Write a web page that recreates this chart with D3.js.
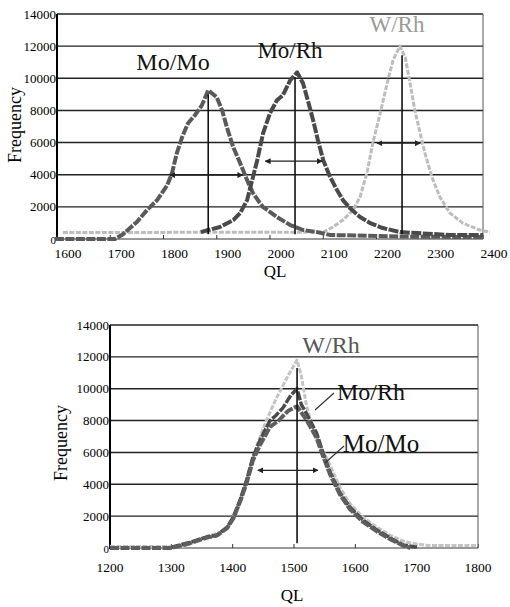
<!DOCTYPE html>
<html>
<head>
<meta charset="utf-8">
<script src="https://cdn.jsdelivr.net/npm/d3@7"></script>
<style>
  body { margin: 0; background: #fff; }
</style>
</head>
<body>
<svg id="chart" width="510" height="607" font-family="'Liberation Serif', 'DejaVu Serif', serif"></svg>
<script>
// values
const yTicks = [0, 2000, 4000, 6000, 8000, 10000, 12000, 14000];
const topTicks = [1600, 1700, 1800, 1900, 2000, 2100, 2200, 2300, 2400];
const botTicks = [1200, 1300, 1400, 1500, 1600, 1700, 1800];

// upper panel: [QL, frequency]
const topMoMo = [[1596,0],[1709,0],[1724,300],[1733,560],[1750,1060],[1769,1800],[1788,2420],[1807,3350],[1816,4100],
  [1825,5340],[1835,6340],[1846,7200],[1859,7700],[1872,8320],[1884,9250],[1900,8820],[1910,8010],[1919,6960],
  [1931,5710],[1944,4720],[1957,3660],[1968,2860],[1981,2240],[1987,1990],[2013,1370],[2038,870],[2062,560],
  [2088,430],[2113,250],[2250,150],[2400,120]];
const topMoRh = [[1870,430],[1884,560],[1906,745],[1931,1180],[1944,1615],[1957,2420],[1968,3850],[1976,4900],
  [1987,6580],[2000,7830],[2013,8630],[2024,8940],[2038,9880],[2051,10370],[2062,9690],[2071,8630],[2081,7390],
  [2090,6150],[2100,4900],[2113,3850],[2126,3040],[2137,2420],[2150,1925],[2169,1370],[2188,990],[2212,680],
  [2244,430],[2276,370],[2338,250],[2400,250]];
const topWRh = [[1611,400],[2100,430],[2118,740],[2137,1180],[2156,1800],[2169,2610],[2182,4100],[2193,5960],
  [2207,7830],[2220,9690],[2231,11120],[2244,12000],[2254,11300],[2263,9690],[2272,8010],[2282,6580],[2291,5340],
  [2304,3850],[2319,2610],[2338,1610],[2362,990],[2394,560],[2413,430]];
const topPeakQL = [1884, 2047, 2248];
const topPeakTop = [9000, 10060, 11430];
const topWidths = [[1812, 1949, 3975], [1991, 2098, 4840], [2201, 2282, 5960]];

// lower panel: [QL, frequency]
const botMoMo = [[1200,0],[1300,0],[1330,300],[1358,650],[1374,780],[1391,1250],[1401,1850],[1412,2900],[1423,4100],
  [1433,5500],[1445,6500],[1461,7600],[1475,8000],[1490,8600],[1505,8900],[1521,8000],[1537,6900],[1547,5800],
  [1559,4600],[1575,3350],[1591,2450],[1612,1650],[1635,1050],[1657,550],[1678,150],[1690,0]];
const botMoRh = [[1300,50],[1330,350],[1358,700],[1374,800],[1391,1300],[1401,1950],[1412,3000],[1423,4300],
  [1433,5700],[1445,6800],[1461,8000],[1470,8300],[1482,8800],[1495,9600],[1505,10000],[1512,9000],[1521,8400],
  [1537,7200],[1547,6000],[1559,4750],[1575,3450],[1591,2570],[1612,1760],[1635,1130],[1657,630],[1678,190],[1700,50]];
const botWRh = [[1200,100],[1320,100],[1340,450],[1360,750],[1380,1000],[1395,1500],[1410,2700],[1420,3800],
  [1430,5200],[1440,6500],[1455,8000],[1470,9300],[1490,10800],[1505,11800],[1512,10800],[1520,9000],[1530,7600],
  [1545,6300],[1560,5100],[1575,3800],[1591,2800],[1612,1950],[1635,1300],[1657,800],[1680,400],[1700,250],
  [1720,150],[1800,150]];
const botPeakQL = [1505];
const botPeakTop = [11300];
const botWidths = [[1441, 1539, 4875]];

const svg = d3.select("#chart");

svg.append("defs").append("marker")
  .attr("id", "head")
  .attr("viewBox", "0 0 10 10")
  .attr("refX", 9).attr("refY", 5)
  .attr("markerWidth", 6).attr("markerHeight", 6)
  .attr("markerUnits", "userSpaceOnUse")
  .attr("orient", "auto-start-reverse")
  .append("path").attr("d", "M0,0L10,5L0,10Z").attr("fill", "#222");

function drawPanel(p) {
  var x = d3.scaleLinear().domain(p.domain).range(p.xRange);
  var y = d3.scaleLinear().domain([0, 14000]).range(p.yRange);
  var g = svg.append("g");

  // horizontal grid lines (top one is the frame)
  g.selectAll("line.grid").data(yTicks.slice(1)).enter().append("line")
    .attr("class", "grid")
    .attr("x1", p.xRange[0]).attr("x2", p.xRange[1])
    .attr("y1", d => y(d)).attr("y2", d => y(d))
    .attr("stroke", "#222").attr("stroke-width", 1.4);

  g.append("line").attr("x1", p.xRange[0]).attr("x2", p.xRange[1])
    .attr("y1", y(0)).attr("y2", y(0)).attr("stroke", "#777").attr("stroke-width", 1.5);
  g.append("line").attr("x1", p.xRange[1]).attr("x2", p.xRange[1])
    .attr("y1", y(14000)).attr("y2", y(0)).attr("stroke", "#555").attr("stroke-width", 1);
  g.append("line").attr("x1", p.xRange[0]).attr("x2", p.xRange[0])
    .attr("y1", y(14000)).attr("y2", y(0) + 1).attr("stroke", "#000").attr("stroke-width", 2);

  // small tick marks on the QL axis
  g.selectAll("line.xt").data(p.ticks).enter().append("line")
    .attr("x1", d => x(d)).attr("x2", d => x(d))
    .attr("y1", y(0)).attr("y2", y(0) - 4)
    .attr("stroke", "#333").attr("stroke-width", 1);

  g.selectAll("text.yl").data(yTicks).enter().append("text")
    .attr("x", p.xRange[0] - 1).attr("y", d => y(d) + 4.5)
    .attr("text-anchor", "end").attr("font-size", d => d == 0 ? 11 : 13)
    .text(d => d);

  g.selectAll("text.xl").data(p.ticks).enter().append("text")
    .attr("x", d => x(d) + p.labelShift).attr("y", p.labelY)
    .attr("text-anchor", "middle").attr("font-size", 13.5)
    .text(d => d);

  g.append("text").attr("x", p.qlPos[0]).attr("y", p.qlPos[1])
    .attr("text-anchor", "middle").attr("font-size", 17).text("QL");
  g.append("text")
    .attr("transform", "translate(" + p.freqPos[0] + "," + p.freqPos[1] + ") rotate(-90)")
    .attr("text-anchor", "middle").attr("font-size", 18).text("Frequency");

  var line = d3.line().x(d => x(d[0])).y(d => y(d[1]));
  p.series.forEach(function(s) {
    g.append("path").attr("d", line(s.data))
      .attr("fill", "none").attr("stroke", s.color)
      .attr("stroke-width", s.width).attr("stroke-dasharray", s.dash)
      .attr("stroke-linejoin", "round");
  });

  // peak position lines
  g.selectAll("line.peak").data(p.peaks).enter().append("line")
    .attr("x1", d => x(d)).attr("x2", d => x(d))
    .attr("y1", y(300)).attr("y2", (d, i) => y(p.peakTop[i]))
    .attr("stroke", "#111").attr("stroke-width", 1.6);

  // width arrows
  g.selectAll("line.fw").data(p.widths).enter().append("line")
    .attr("x1", d => x(d[0])).attr("x2", d => x(d[1]))
    .attr("y1", d => y(d[2])).attr("y2", d => y(d[2]))
    .attr("stroke", "#222").attr("stroke-width", 1.2)
    .attr("marker-start", "url(#head)").attr("marker-end", "url(#head)");

  p.labels.forEach(function(l) {
    g.append("text").attr("x", l.x).attr("y", l.y).attr("text-anchor", "middle")
      .attr("font-size", l.size).attr("fill", l.color).text(l.text);
    if (l.lead) {
      g.append("line").attr("x1", l.lead[0]).attr("y1", l.lead[1])
        .attr("x2", l.lead[2]).attr("y2", l.lead[3])
        .attr("stroke", "#333").attr("stroke-width", 1.2);
    }
  });
}

drawPanel({
  domain: [1600, 2400], xRange: [57, 483], yRange: [239, 14],
  ticks: topTicks, labelShift: 11, labelY: 258,
  qlPos: [275, 277], freqPos: [21, 125],
  series: [
    { data: topWRh, color: "#bdbdbd", width: 3, dash: "5,1.5" },
    { data: topMoMo, color: "#5a5a5a", width: 4, dash: "9,1.5" },
    { data: topMoRh, color: "#4a4a4a", width: 4, dash: "10,1.5" }
  ],
  peaks: topPeakQL, peakTop: topPeakTop, widths: topWidths,
  labels: [
    { text: "Mo/Mo", x: 173, y: 70, size: 24, color: "#111" },
    { text: "Mo/Rh", x: 290, y: 58, size: 23, color: "#111" },
    { text: "W/Rh", x: 397, y: 32, size: 23, color: "#9a9a9a" }
  ]
});

drawPanel({
  domain: [1200, 1800], xRange: [110, 478], yRange: [548, 325],
  ticks: botTicks, labelShift: 0, labelY: 572,
  qlPos: [292, 601], freqPos: [67, 443],
  series: [
    { data: botWRh, color: "#c4c4c4", width: 3, dash: "5,1.5" },
    { data: botMoRh, color: "#4a4a4a", width: 3.5, dash: "9,1.5" },
    { data: botMoMo, color: "#5e5e5e", width: 4, dash: "9,1.5" }
  ],
  peaks: botPeakQL, peakTop: botPeakTop, widths: botWidths,
  labels: [
    { text: "W/Rh", x: 331, y: 353, size: 24, color: "#555" },
    { text: "Mo/Rh", x: 371, y: 400, size: 24, color: "#111", lead: [334, 393, 315, 410] },
    { text: "Mo/Mo", x: 381, y: 452, size: 25, color: "#111", lead: [344, 446, 325, 463] }
  ]
});
</script>
</body>
</html>
